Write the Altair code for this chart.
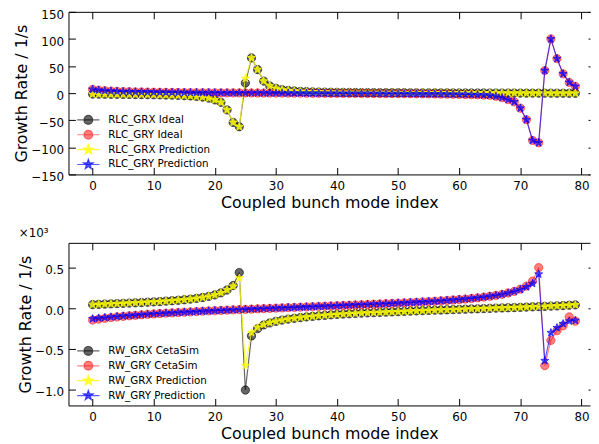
import math
import altair as alt
import pandas as pd

# ---------------- data ----------------
MODES = list(range(80))

TOP_SERIES = ["RLC_GRX Ideal", "RLC_GRY Ideal", "RLC_GRX Prediction", "RLC_GRY Prediction"]
BOT_SERIES = ["RW_GRX CetaSim", "RW_GRY CetaSim", "RW_GRX Prediction", "RW_GRY Prediction"]

RLC_GRX_IDEAL = [
    -1.8, -1.9, -2.0, -2.1, -2.2, -2.3, -2.4, -2.5, -2.6, -2.8,
    -3.0, -3.2, -3.4, -3.7, -4.1, -4.6, -5.2, -6.0, -7.2, -9.3,
    -12.5, -17.0, -31.0, -54.0, -62.0, 18.6, 65.0, 43.5, 22.2, 13.1,
    8.8, 6.4, 4.9, 3.9, 3.2, 2.7, 2.3, 2.0, 1.8, 1.6,
    1.45, 1.35, 1.25, 1.15, 1.05, 1.0, 0.95, 0.9, 0.85, 0.8,
    0.75, 0.7, 0.65, 0.6, 0.55, 0.5, 0.47, 0.44, 0.41, 0.38,
    0.35, 0.32, 0.29, 0.26, 0.23, 0.2, 0.17, 0.14, 0.11, 0.08,
    0.05, 0.02, -0.01, -0.04, -0.07, -0.1, -0.13, -0.16, -0.19, -0.22,
]
RLC_GRY_IDEAL = [
    7.0, 5.5, 4.5, 3.8, 3.3, 2.9, 2.6, 2.3, 2.1, 1.9,
    1.7, 1.55, 1.4, 1.3, 1.2, 1.1, 1.0, 0.9, 0.8, 0.7,
    0.6, 0.55, 0.5, 0.45, 0.4, 0.35, 0.3, 0.25, 0.2, 0.15,
    0.1, 0.05, 0.0, -0.05, -0.1, -0.15, -0.2, -0.25, -0.3, -0.35,
    -0.4, -0.45, -0.5, -0.55, -0.6, -0.65, -0.7, -0.75, -0.8, -0.85,
    -0.9, -1.0, -1.1, -1.2, -1.3, -1.4, -1.5, -1.6, -1.8, -2.0,
    -2.2, -2.5, -2.8, -3.1, -3.5, -4.0, -5.8, -8.2, -11.9, -16.0,
    -27.7, -49.0, -87.3, -91.6, 41.7, 100.0, 63.6, 35.6, 19.8, 12.5,
]
RLC_GRX_PRED = [
    -1.8, -1.9, -2.0, -2.1, -2.2, -2.3, -2.4, -2.5, -2.6, -2.8,
    -3.0, -3.2, -3.4, -3.7, -4.1, -4.6, -5.2, -6.0, -7.2, -9.3,
    -12.5, -17.0, -31.0, -54.0, -62.0, 27.0, 65.0, 43.5, 22.2, 13.1,
    8.8, 6.4, 4.9, 3.9, 3.2, 2.7, 2.3, 2.0, 1.8, 1.6,
    1.45, 1.35, 1.25, 1.15, 1.05, 1.0, 0.95, 0.9, 0.85, 0.8,
    0.75, 0.7, 0.65, 0.6, 0.55, 0.5, 0.47, 0.44, 0.41, 0.38,
    0.35, 0.32, 0.29, 0.26, 0.23, 0.2, 0.17, 0.14, 0.11, 0.08,
    0.05, 0.02, -0.01, -0.04, -0.07, -0.1, -0.13, -0.16, -0.19, -0.22,
]
RLC_GRY_PRED = [
    7.0, 5.5, 4.5, 3.8, 3.3, 2.9, 2.6, 2.3, 2.1, 1.9,
    1.7, 1.55, 1.4, 1.3, 1.2, 1.1, 1.0, 0.9, 0.8, 0.7,
    0.6, 0.55, 0.5, 0.45, 0.4, 0.35, 0.3, 0.25, 0.2, 0.15,
    0.1, 0.05, 0.0, -0.05, -0.1, -0.15, -0.2, -0.25, -0.3, -0.35,
    -0.4, -0.45, -0.5, -0.55, -0.6, -0.65, -0.7, -0.75, -0.8, -0.85,
    -0.9, -1.0, -1.1, -1.2, -1.3, -1.4, -1.5, -1.6, -1.8, -2.0,
    -2.2, -2.5, -2.8, -3.1, -3.5, -4.0, -5.8, -8.2, -11.9, -16.0,
    -27.7, -49.0, -87.3, -91.6, 41.7, 100.0, 63.6, 35.6, 19.8, 12.5,
]

# bottom panel, in units of 10^3 1/s
RW_GRX_CETA = [
    0.041, 0.044, 0.047, 0.050, 0.053, 0.056, 0.059, 0.062, 0.066, 0.070,
    0.074, 0.078, 0.083, 0.088, 0.094, 0.100, 0.108, 0.117, 0.128, 0.142,
    0.160, 0.185, 0.220, 0.275, 0.435, -1.010, -0.345, -0.255, -0.210, -0.185,
    -0.165, -0.150, -0.138, -0.128, -0.119, -0.111, -0.104, -0.097, -0.091, -0.085,
    -0.080, -0.076, -0.072, -0.068, -0.064, -0.061, -0.058, -0.055, -0.052, -0.049,
    -0.046, -0.043, -0.040, -0.037, -0.034, -0.031, -0.028, -0.026, -0.023, -0.021,
    -0.018, -0.016, -0.013, -0.011, -0.008, -0.006, -0.003, -0.001, 0.002, 0.004,
    0.007, 0.010, 0.013, 0.016, 0.019, 0.022, 0.025, 0.029, 0.033, 0.037,
]
RW_GRX_PRED = [
    0.041, 0.044, 0.047, 0.050, 0.053, 0.056, 0.059, 0.062, 0.066, 0.070,
    0.074, 0.078, 0.083, 0.088, 0.094, 0.100, 0.108, 0.117, 0.128, 0.142,
    0.160, 0.185, 0.220, 0.265, 0.366, -0.710, -0.305, -0.240, -0.205, -0.182,
    -0.165, -0.150, -0.138, -0.128, -0.119, -0.111, -0.104, -0.097, -0.091, -0.085,
    -0.080, -0.076, -0.072, -0.068, -0.064, -0.061, -0.058, -0.055, -0.052, -0.049,
    -0.046, -0.043, -0.040, -0.037, -0.034, -0.031, -0.028, -0.026, -0.023, -0.021,
    -0.018, -0.016, -0.013, -0.011, -0.008, -0.006, -0.003, -0.001, 0.002, 0.004,
    0.007, 0.010, 0.013, 0.016, 0.019, 0.022, 0.025, 0.029, 0.033, 0.037,
]
RW_GRY_CETA = [
    -0.150, -0.138, -0.128, -0.119, -0.111, -0.104, -0.097, -0.091, -0.085, -0.079,
    -0.074, -0.069, -0.065, -0.061, -0.057, -0.053, -0.049, -0.045, -0.041, -0.037,
    -0.034, -0.031, -0.028, -0.024, -0.021, -0.018, -0.015, -0.012, -0.009, -0.006,
    -0.003, 0.000, 0.003, 0.006, 0.009, 0.012, 0.015, 0.018, 0.021, 0.024,
    0.027, 0.030, 0.033, 0.036, 0.039, 0.042, 0.045, 0.048, 0.052, 0.055,
    0.059, 0.062, 0.066, 0.070, 0.074, 0.078, 0.082, 0.087, 0.092, 0.097,
    0.103, 0.109, 0.116, 0.124, 0.133, 0.143, 0.154, 0.167, 0.183, 0.203,
    0.230, 0.268, 0.330, 0.496, -0.710, -0.400, -0.280, -0.220, -0.110, -0.163,
]
RW_GRY_PRED = [
    -0.134, -0.126, -0.119, -0.112, -0.106, -0.100, -0.095, -0.090, -0.085, -0.079,
    -0.074, -0.069, -0.065, -0.061, -0.057, -0.053, -0.049, -0.045, -0.041, -0.037,
    -0.034, -0.031, -0.028, -0.024, -0.021, -0.018, -0.015, -0.012, -0.009, -0.006,
    -0.003, 0.000, 0.003, 0.006, 0.009, 0.012, 0.015, 0.018, 0.021, 0.024,
    0.027, 0.030, 0.033, 0.036, 0.039, 0.042, 0.045, 0.048, 0.052, 0.055,
    0.059, 0.062, 0.066, 0.070, 0.074, 0.078, 0.082, 0.087, 0.092, 0.097,
    0.103, 0.109, 0.116, 0.124, 0.133, 0.143, 0.154, 0.167, 0.183, 0.203,
    0.226, 0.258, 0.300, 0.415, -0.650, -0.305, -0.244, -0.195, -0.163, -0.155,
]

X_TICKS = [0, 10, 20, 30, 40, 50, 60, 70, 80]
TOP_Y_TICKS = [-150, -100, -50, 0, 50, 100, 150]
BOT_Y_TICKS = [-1.0, -0.5, 0.0, 0.5]

# ---------------- styling ----------------
FONT = "DejaVu Sans"
W, H = 526, 164
X_DOMAIN = [-3.95, 81.4]
COLORS = ["rgba(0,0,0,0.6)", "rgba(255,0,0,0.5)", "rgba(255,255,0,0.75)", "rgba(0,0,255,0.65)"]


def star_path(R, r):
    pts = []
    for k in range(10):
        ang = math.radians(-90 + 36 * k)
        rad = R if k % 2 == 0 else r
        pts.append((rad * math.cos(ang), rad * math.sin(ang)))
    return "M" + "L".join(f"{x:.3f},{y:.3f}" for x, y in pts) + "Z"


def circle_path(r):
    return f"M{r},0A{r},{r},0,1,1,{-r},0A{r},{r},0,1,1,{r},0Z"


STAR = star_path(1.0, 0.42)
LINE_SEG = "M-1.6,0L1.6,0"
LEG_CIRCLE = LINE_SEG + circle_path(0.64)
LEG_STAR = LINE_SEG + star_path(0.75, 0.3)
DATA_SHAPES = ["circle", "circle", STAR, STAR]
DATA_SIZES = [70, 70, 72, 72]
LEG_SHAPES = [LEG_CIRCLE, LEG_CIRCLE, LEG_STAR, LEG_STAR]


def panel(names, series_values, y_domain, y_ticks, y_fmt, title=None):
    rows = []
    for name, vals in zip(names, series_values):
        for m, v in zip(MODES, vals):
            rows.append({"mode": m, "value": v, "series": name})
    df = pd.DataFrame(rows)

    xs = alt.Scale(domain=X_DOMAIN, nice=False, zero=False)
    ys = alt.Scale(domain=y_domain, nice=False, zero=False)

    ax_x_main = alt.Axis(orient="bottom", values=X_TICKS, domain=False, ticks=False,
                         labelPadding=6, labelOverlap=False, labelFlush=False,
                         title="Coupled bunch mode index", titlePadding=3)
    ax_x_bot = alt.Axis(orient="top", offset=-H, values=X_TICKS, domain=True, ticks=True,
                        tickSize=7, labels=False, title=None)
    ax_x_top = alt.Axis(orient="bottom", offset=-H, values=X_TICKS, domain=True, ticks=True,
                        tickSize=7, labels=False, title=None)
    ax_y_main = alt.Axis(orient="left", values=y_ticks, domain=False, ticks=False,
                         labelPadding=5, labelOffset=2.5, labelOverlap=False, format=y_fmt,
                         title="Growth Rate / 1/s", titlePadding=1)
    ax_y_left = alt.Axis(orient="right", offset=-W, values=y_ticks, domain=True, ticks=True,
                         tickSize=7, labels=False, title=None)
    ax_y_right = alt.Axis(orient="left", offset=-W, values=y_ticks, domain=False, ticks=True,
                          tickSize=2, labels=False, title=None)

    axis_sets = {0: (ax_x_main, ax_y_main), 1: (ax_x_bot, ax_y_left), 2: (ax_x_top, ax_y_right)}

    layers = []
    k = 0
    for i, name in enumerate(names):
        base = alt.Chart(df).transform_filter(alt.datum.series == name)
        ax = axis_sets.get(k, (None, None))
        k += 1
        line = base.mark_line(stroke=COLORS[i], strokeWidth=1.2).encode(
            x=alt.X("mode:Q", scale=xs, axis=ax[0]),
            y=alt.Y("value:Q", scale=ys, axis=ax[1]),
        )
        ax = axis_sets.get(k, (None, None))
        k += 1
        pts = base.mark_point(filled=True, opacity=1, fill=COLORS[i], stroke=COLORS[i],
                              strokeWidth=1, shape=DATA_SHAPES[i], size=DATA_SIZES[i]).encode(
            x=alt.X("mode:Q", scale=xs, axis=ax[0]),
            y=alt.Y("value:Q", scale=ys, axis=ax[1]),
        )
        layers += [line, pts]

    leg = alt.Legend(title=None, orient="none", legendX=12, legendY=101, symbolSize=196,
                     labelFont=FONT, labelFontSize=10.4, labelColor="black", labelOffset=12,
                     rowPadding=-1.3, padding=0, symbolStrokeWidth=1.2, labelLimit=0)
    legend_layer = alt.Chart(df).transform_filter("false").mark_point(
        filled=True, opacity=1, strokeWidth=1.2).encode(
        x=alt.X("mode:Q", scale=xs, axis=None),
        y=alt.Y("value:Q", scale=ys, axis=None),
        fill=alt.Fill("series:N", scale=alt.Scale(domain=names, range=COLORS), legend=leg),
        stroke=alt.Stroke("series:N", scale=alt.Scale(domain=names, range=COLORS), legend=leg),
        shape=alt.Shape("series:N", scale=alt.Scale(domain=names, range=LEG_SHAPES), legend=leg),
    )
    layers.append(legend_layer)

    props = dict(width=W, height=H)
    if title is not None:
        props["title"] = alt.TitleParams(text=title, anchor="start", fontSize=12, font=FONT,
                                         fontWeight="normal", color="black", offset=2, dx=1)
    return alt.layer(*layers).resolve_axis(x="independent", y="independent").properties(**props)


top = panel(TOP_SERIES, [RLC_GRX_IDEAL, RLC_GRY_IDEAL, RLC_GRX_PRED, RLC_GRY_PRED],
            [-150, 150], TOP_Y_TICKS, "d")
bottom = panel(BOT_SERIES, [RW_GRX_CETA, RW_GRY_CETA, RW_GRX_PRED, RW_GRY_PRED],
               [-1.2, 0.8], BOT_Y_TICKS, ".1f", title="×10³")

chart = alt.vconcat(top, bottom, spacing=17).resolve_scale(
    x="independent", y="independent", fill="independent", stroke="independent", shape="independent"
).resolve_legend(fill="independent", stroke="independent", shape="independent").properties(
    padding={"left": 6, "top": -2, "right": 0, "bottom": 0}
).configure_view(stroke=None).configure_axis(
    grid=False, labelFont=FONT, labelFontSize=12, labelColor="black", titleFont=FONT,
    titleFontSize=16, titleFontWeight="normal", titleColor="black", domainColor="black",
    tickColor="black", domainWidth=1, tickWidth=1
)

chart.save("out.html", embed_options={"renderer": "svg", "actions": False})
